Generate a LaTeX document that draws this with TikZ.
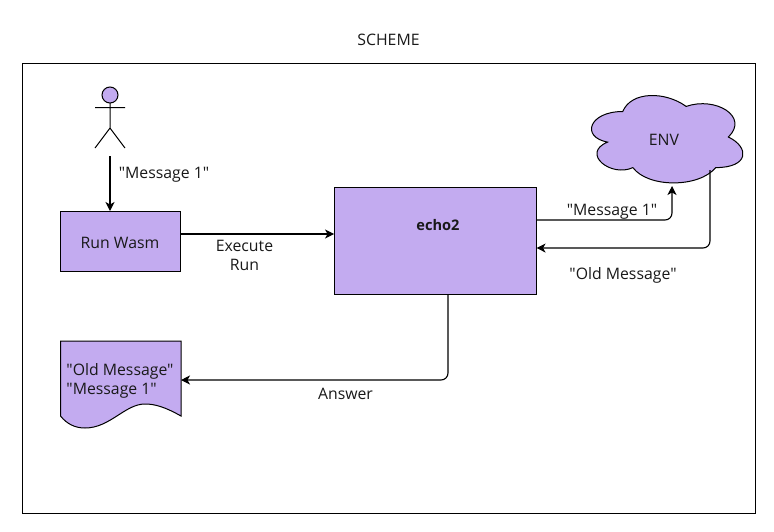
\documentclass[tikz,border=0pt]{standalone}
\usepackage{fontspec}
\newfontfamily\ofont{Open Sans}
\usetikzlibrary{arrows.meta}
\definecolor{lav}{HTML}{C3ABF0}
\tikzset{
  box/.style={draw=black,fill=lav,line width=1pt,inner sep=0pt,outer sep=0pt},
  lbl/.style={font=\ofont\fontsize{15.8pt}{19.2pt}\selectfont,text=black!90,inner sep=0pt,align=center},
  conn/.style={draw=black,line width=1.1pt,rounded corners=7pt,-{Stealth[length=9pt,width=9pt,inset=2.5pt]}},
  thin line/.style={draw=black,line width=1pt},
  shapeline/.style={draw=black,line width=1pt,fill=lav}
}
\begin{document}
\begin{tikzpicture}[x=1pt,y=-1pt]
\useasboundingbox (0,0) rectangle (774,531);
\fill[white] (0,0) rectangle (774,531);
\draw[thin line] (22.5,63.7) rectangle (755.5,513);
\node[lbl] (title) at (388.5,39.7) {SCHEME};
% actor
\draw[shapeline] (110,95) circle (8);
\draw[thin line] (110,103) -- (110,128) (95,107.5) -- (125,107.5) (110,128) -- (95,148) (110,128) -- (125,148);
\coordinate (actorfoot) at (110,156);
% boxes
\node[box,minimum width=120.5pt,minimum height=60pt] (run) at (120.5,241) {};
\node[lbl] (runlabel) at (120,243) {Run Wasm};
\node[box,minimum width=202.5pt,minimum height=107pt] (echo) at (435.3,241.3) {};
\node[lbl,font=\ofont\fontsize{14.6pt}{19.2pt}\selectfont\bfseries] (echolabel) at (438,225) {echo2};
% cloud
\begin{scope}[shift={(580.5,86)},x=169pt,y=-102pt]
\draw[shapeline] (.25,.25) .. controls (.05,.25) and (0,.5) .. (.16,.55)
  .. controls (0,.66) and (.18,.9) .. (.31,.8)
  .. controls (.4,1) and (.7,1) .. (.8,.8)
  .. controls (1,.8) and (1,.6) .. (.875,.5)
  .. controls (1,.3) and (.8,.1) .. (.625,.2)
  .. controls (.5,.05) and (.3,.05) .. (.25,.25) -- cycle;
\end{scope}
\node[lbl] (env) at (664,140) {ENV};
\coordinate (cloudin) at (672,186);
\coordinate (cloudout) at (710,170);
% document
\draw[shapeline] (60.5,341) -- (181,341) -- (181,416)
  .. controls (165,407) and (155,404) .. (145,404)
  .. controls (125,404) and (110,428) .. (85,428)
  .. controls (75,428) and (67,424) .. (60.5,416) -- cycle;
\node[lbl,align=left] (doc) at (120,380.5) {"Old Message"\\"Message 1"};
\coordinate (docin) at (181,380);
% connectors
\draw[conn,line width=1.4pt] (actorfoot) -- (run.north -| actorfoot);
\draw[conn] (run.east |- 0,234) -- (echo.west |- 0,234);
\draw[conn] (echo.east |- 0,220) -- (cloudin |- 0,220) -- (cloudin);
\draw[conn] (cloudout) -- (cloudout |- 0,248) -- (echo.east |- 0,248);
\draw[conn] (448,295) -- (448,380) -- (docin);
% labels
\node[lbl] (m1) at (164,174.3) {"Message 1"};
\node[lbl] (exec) at (244.5,255.5) {Execute\\Run};
\node[lbl] (m2) at (612,212) {"Message 1"};
\node[lbl] (old) at (623,275) {"Old Message"};
\node[lbl] (ans) at (345.5,394) {Answer};
\end{tikzpicture}
\end{document}
